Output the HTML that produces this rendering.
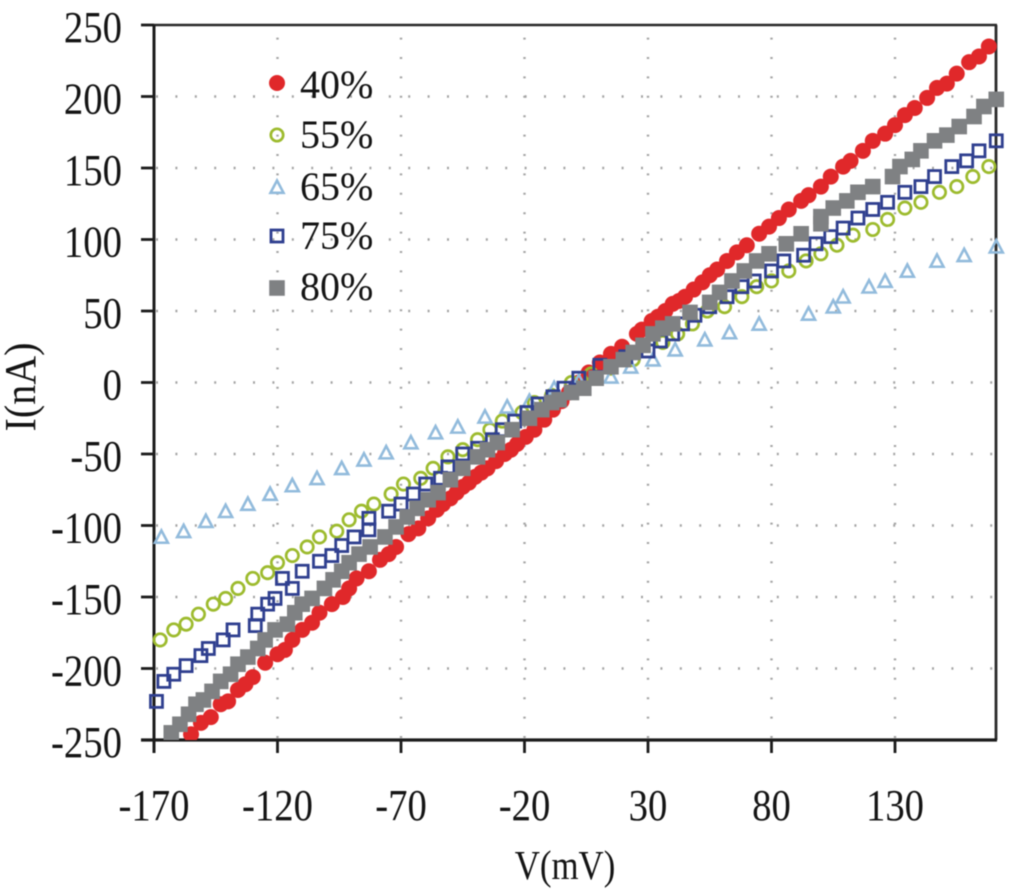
<!DOCTYPE html>
<html>
<head>
<meta charset="utf-8">
<title>I-V chart</title>
<style>
html,body{margin:0;padding:0;background:#fff;}
svg{display:block;filter:blur(0.6px);}
text{font-family:"Liberation Serif",serif;fill:#141414;font-size:44px;}
</style>
</head>
<body>
<svg id="chart" width="1024" height="892" viewBox="0 0 1024 892" xmlns="http://www.w3.org/2000/svg">
  <defs><clipPath id="plot-clip"><rect x="100" y="0" width="924" height="740"/></clipPath></defs>
  <g id="grid"></g>
  <g id="axes"></g>
  <g id="marks" clip-path="url(#plot-clip)"></g>
  <g id="labels"></g>
  <text transform="translate(565,879) scale(0.85,1)" text-anchor="middle" style="font-size:41px">V(mV)</text>
  <text transform="translate(35,387) rotate(-90) scale(0.91,1)" text-anchor="middle">I(nA)</text>
  <g id="legend"></g>
</svg>
<script>
const xTicks = [-170, -120, -70, -20, 30, 80, 130];
const yTicks = [250, 200, 150, 100, 50, 0, -50, -100, -150, -200, -250];

const seriesNames = ["40%", "55%", "65%", "75%", "80%"];

const v40 = [-155,-151,-147,-143,-140,-136,-133,-130,-125,-120,-117,-114,-110,-106,-103,-98,-93.5,-91,-88,-83,-78.5,-75,-72,-67,-63,-59,-55.5,-53,-50,-47.5,-45,-42.5,-40,-37.5,-35,-31.5,-28,-25.5,-23,-19.5,-16,-12,-8.5,-5,-2,2,6,10.5,15,19.5,25.5,27.5,31.5,34,37,40,42.5,45,48.5,52,55,58,62,66,70,75,79,83,87,92,95,100,104,109,112,117,121,126,130,134,138,143,147,151,155,160,164,168];
const i40 = [-246,-238,-234,-225,-223,-215,-211,-206,-196,-190,-187,-180,-173,-168,-161,-155,-150,-144,-137,-132,-124,-120,-115,-106,-102,-95,-89,-85,-81,-77,-73,-70,-66,-63,-60,-55,-50,-47,-43,-38,-33,-26,-19,-13,-7,0,7,14,20,25,34,37,43,46,50,55,57,60,65,70,75,79,85,91,96,104,109,115,121,127,131,137,144,151,155,162,169,174,180,187,192,199,206,209,216,224,228,235];

const v55 = [-167.5,-162,-157,-152,-146,-141,-136,-130,-124,-120,-114,-108,-103,-96,-91,-86,-81,-74,-69,-62,-57,-51,-45,-39,-34,-29,-21,-16,-9,-1,7,15,24,36,42,48,54,61,68,74,80,87,94,100,106.5,113,121,127,134,140.5,148,155,161.5,168];
const i55 = [-180,-173,-169,-162,-155,-151,-144,-137,-133,-126,-121,-115,-108,-104,-96,-90,-85,-78,-71,-67,-60,-52,-47,-40,-33,-27,-21,-14,-9,0,6,10,16,28,34,41,50,53,60,67,71,78,85,90,96,103,107,114,122,126,133,137,144,151];

const v65 = [-167,-158,-149,-141,-132,-123,-114,-104,-94,-85,-76,-66,-56,-47,-36,-27,-18,-8,2,15,23,32,41,53,63,75,95,105,109,119.5,126,135,147,158,171];
const i65 = [-108,-104,-97,-90,-85,-78,-72,-67,-60,-54,-49,-42,-35,-31,-24,-17,-13,-4,1,4,11,16,23,30,35,41,48,53,60,67,71,78,85,89,95];

const v75 = [-169,-166,-162,-157,-151,-148,-142,-138,-129,-128,-124,-121,-118,-114,-110,-103,-98,-94,-89,-83,-83,-75,-70,-65,-60,-54,-51,-45,-39,-33,-29,-24,-19,-14.5,-8.5,-4,2,10.5,21,30,35,40,44,49,55,62,68,73,80,85,93,98,104,109,115,121,127,134,140.5,146,153,159,164,171];
const i75 = [-223,-209,-204,-198,-191,-186,-180,-173,-170,-162,-155,-151,-137,-144,-132,-125,-121,-114,-108,-103,-95,-90,-85,-78,-71,-67,-59,-50,-46,-40,-33,-27,-21,-15,-10,-4,3,12,18,22,29,34,41,47,53,60,67,71,78,85,89,97,102,108,115,121,126,133,137,144,151,155,162,169];

const v80 = [-163,-159.5,-156,-153,-150,-146.5,-143,-139,-136,-132,-128,-125,-121,-116,-113,-110,-106,-101,-97.5,-94,-91,-87,-82.5,-76.5,-72,-67.5,-63.5,-59,-55,-50,-45,-39,-35,-31,-25,-18,-13,-9,-6,-1,4,9,15,20,24,28,32,36,40,47,55,59,64,69,74,79,86,92,100,100,105,110.5,115,121,129,132,137,140.5,146,151,156,162,166,171];
const i80 = [-245,-239,-232,-225,-222,-216,-209,-204,-197,-192,-186,-180,-173,-169,-161,-155,-151,-144,-138,-132,-126,-120,-115,-108,-101,-94,-88,-82,-77,-68,-60,-52,-47,-42,-33,-25,-19,-14,-12,-7,-4,3,11,16,21,26,34,38,41,49,56,63,71,78,85,90,97,104,111,116,122,127,133,137,144,151,156,162,169,173,179,186,193,198];

const NS = "http://www.w3.org/2000/svg";
const PLOT = {left: 154, right: 996, top: 25, bottom: 740};
const xScale = v => PLOT.left + (v + 170) * 2.47;
const yScale = i => PLOT.top + (250 - i) * (PLOT.bottom - PLOT.top) / 500;

function make(tag, attrs, parent) {
  const el = document.createElementNS(NS, tag);
  for (const k in attrs) el.setAttribute(k, attrs[k]);
  parent.appendChild(el);
  return el;
}

const COLORS = {c40: "#e0282a", c55: "#9dbb2e", c65: "#92bbdc", c75: "#2f3f8f", c80: "#7f8183"};

function drawMarker(kind, x, y, parent) {
  if (kind === 0) return make("circle", {cx: x, cy: y, r: 8, fill: COLORS.c40}, parent);
  if (kind === 1) return make("circle", {cx: x, cy: y, r: 6.2, fill: "none", stroke: COLORS.c55, "stroke-width": 2.7}, parent);
  if (kind === 2) return make("path", {d: `M${x} ${y-6.5}L${x+6.5} ${y+5.8}L${x-6.5} ${y+5.8}Z`, fill: "none", stroke: COLORS.c65, "stroke-width": 2.6}, parent);
  if (kind === 3) return make("rect", {x: x-6, y: y-6, width: 12, height: 12, fill: "none", stroke: COLORS.c75, "stroke-width": 2.8}, parent);
  return make("rect", {x: x-7.8, y: y-7.8, width: 15.6, height: 15.6, fill: COLORS.c80}, parent);
}

const gridG = document.getElementById("grid");
const axesG = document.getElementById("axes");
const marksG = document.getElementById("marks");
const labelsG = document.getElementById("labels");
const legendG = document.getElementById("legend");

yTicks.forEach(t => {
  const y = yScale(t);
  if (t !== 250 && t !== -250) {
    const g = make("line", {x1: PLOT.left + 2, x2: PLOT.right, y1: y, y2: y, stroke: "#a4a4a4", "stroke-width": 2.4, "stroke-dasharray": "2 17.4"}, gridG);
    
    
  }
  const tick = make("line", {x1: PLOT.left - 13, x2: PLOT.left, y1: y, y2: y, stroke: "#1c1c1c", "stroke-width": 2.8}, axesG);
  
  
  const lab = make("text", {transform: `translate(122,${y + 17}) scale(0.88,1)`, "text-anchor": "end"}, labelsG);
  lab.textContent = String(t);
  
  
});

xTicks.forEach(t => {
  const x = xScale(t);
  if (t !== -170) {
    const g = make("line", {x1: x, x2: x, y1: PLOT.bottom - 2, y2: PLOT.top, stroke: "#a4a4a4", "stroke-width": 2.4, "stroke-dasharray": "2 17.4"}, gridG);
    
    
  }
  const tick = make("line", {x1: x, x2: x, y1: PLOT.bottom, y2: PLOT.bottom + 13, stroke: "#1c1c1c", "stroke-width": 2.8}, axesG);
  
  
  const lab = make("text", {transform: `translate(${x},820) scale(0.88,1)`, "text-anchor": "middle"}, labelsG);
  lab.textContent = String(t);
  
  
});

const topAxis = make("line", {x1: PLOT.left, x2: PLOT.right + 1, y1: PLOT.top, y2: PLOT.top, stroke: "#2a2a2a", "stroke-width": 2.6}, axesG);


const rightAxis = make("line", {x1: PLOT.right, x2: PLOT.right, y1: PLOT.top, y2: PLOT.bottom, stroke: "#2a2a2a", "stroke-width": 2.8}, axesG);


const leftAxis = make("line", {x1: PLOT.left, x2: PLOT.left, y1: PLOT.top, y2: PLOT.bottom + 13, stroke: "#1c1c1c", "stroke-width": 3}, axesG);


const bottomAxis = make("line", {x1: PLOT.left - 13, x2: PLOT.right + 1, y1: PLOT.bottom, y2: PLOT.bottom, stroke: "#1c1c1c", "stroke-width": 3.2}, axesG);



const allV = [v40, v55, v65, v75, v80];
const allI = [i40, i55, i65, i75, i80];
allV.forEach((vs, s) => {
  const group = make("g", {}, marksG);
  
  
  vs.forEach((v, k) => {
    const m = drawMarker(s, xScale(v), yScale(allI[s][k]), group);
    
    
  });
});

const LEGEND_X = 277;
const LEGEND_TEXT_X = 300;
const legendMid = [83, 135, 187, 236, 288];
const legendBase = [98, 148, 200, 249, 300];
seriesNames.forEach((name, s) => {
  const entry = make("g", {}, legendG);
  
  
  const marker = drawMarker(s, LEGEND_X, legendMid[s], entry);
  
  
  const t = make("text", {x: LEGEND_TEXT_X, y: legendBase[s], style: "font-size:40px"}, entry);
  t.textContent = name;
  
  
});
</script>
</body>
</html>
